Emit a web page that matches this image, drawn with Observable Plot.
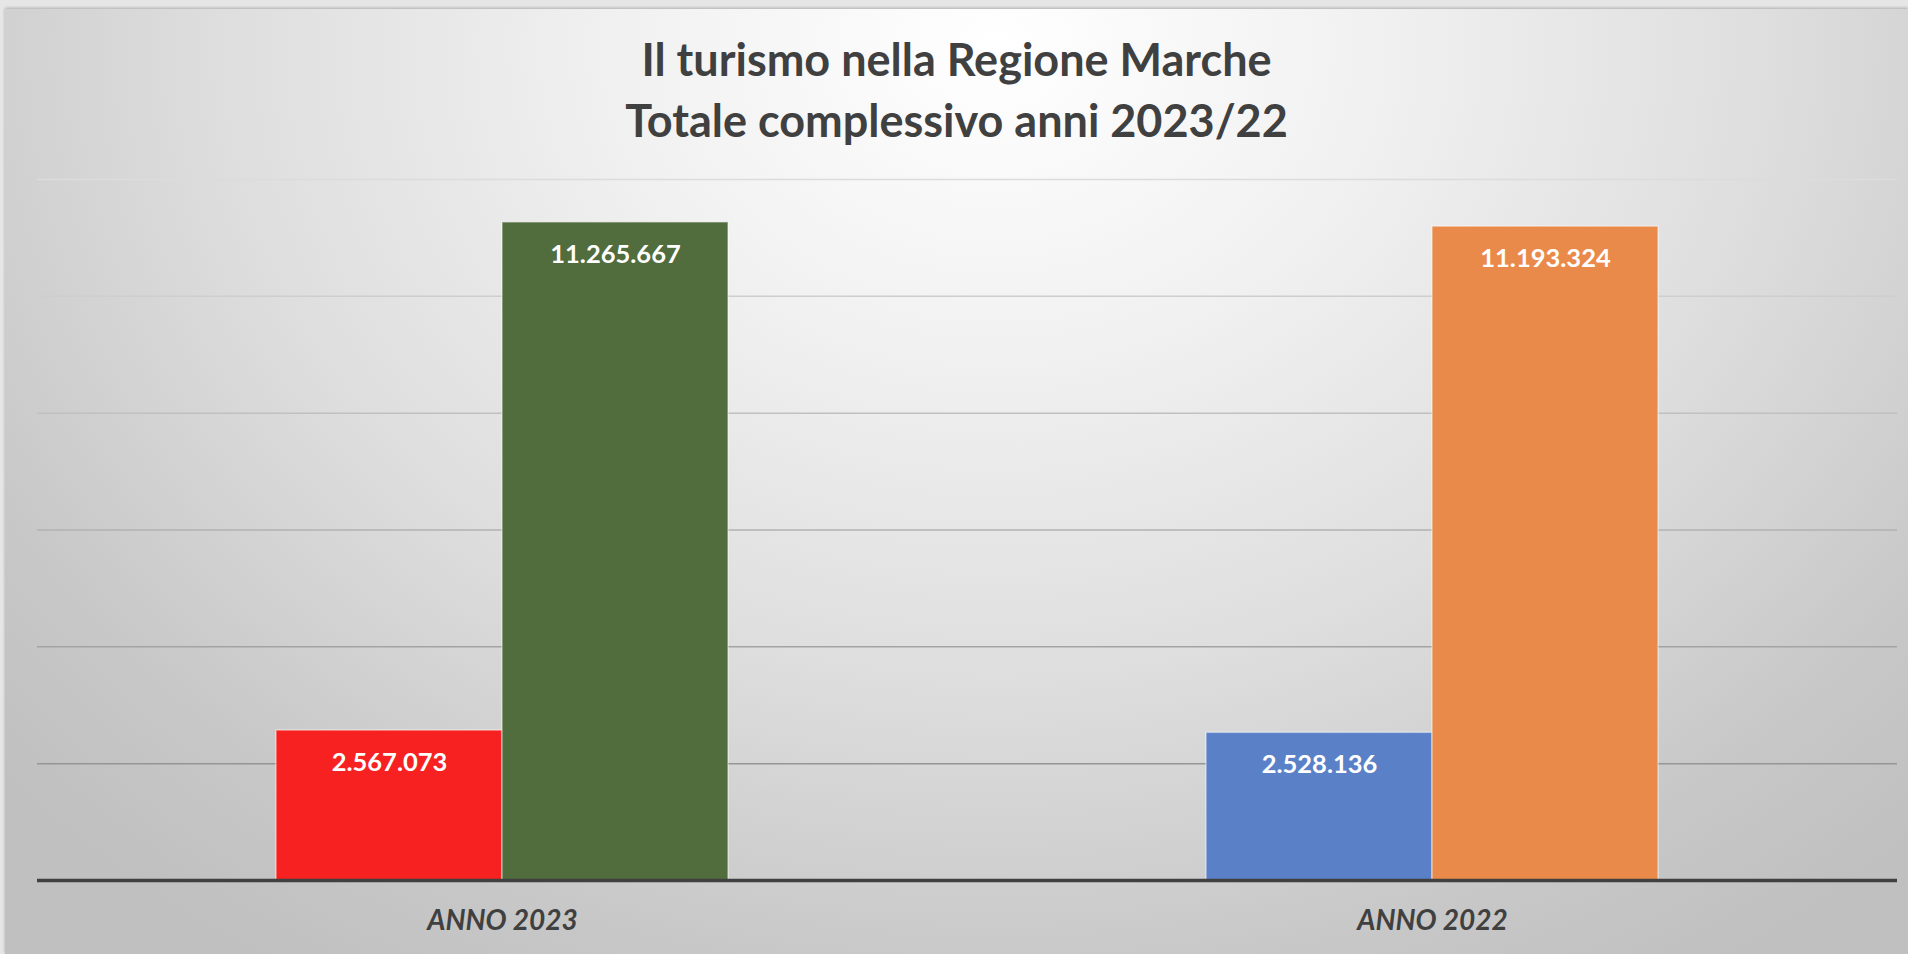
<!DOCTYPE html>
<html>
<head>
<meta charset="utf-8">
<script src="https://cdn.jsdelivr.net/npm/d3@7"></script>
<script src="https://cdn.jsdelivr.net/npm/@observablehq/plot@0.6"></script>
<style>
  html, body { margin: 0; padding: 0; }
  body { width: 1908px; height: 954px; background: #e6e6e6; position: relative; overflow: hidden; font-family: "Lato", "Open Sans", sans-serif; }
  #card { position: absolute; left: 5px; top: 9px; width: 1903px; height: 945px;
    background: radial-gradient(ellipse 70% 115% at 52% 4%, #ffffff 0%, #f1f1f1 28%, #dedede 58%, #c8c8c8 85%, #c0c0c0 100%);
    box-shadow: 0 -1px 3px rgba(0,0,0,0.25); }
  #title { position: absolute; left: 5px; width: 1903px; top: 29px; text-align: center; color: #404040;
    font: bold 45px/61px "Lato", sans-serif; }
  #chart { position: absolute; left: 0; top: 150px; }
</style>
</head>
<body>
<div id="card"></div>
<div id="title">Il turismo nella Regione Marche<br>Totale complessivo anni 2023/22</div>
<div id="chart"></div>
<script>
const categories = ["ANNO 2023", "ANNO 2022"];
const series = ["Arrivi", "Presenze"];
const values2023 = [2567073, 11265667];
const values2022 = [2528136, 11193324];
const gridTicks = [2000000, 4000000, 6000000, 8000000, 10000000, 12000000];

const valuesByYear = [values2023, values2022];
const data = categories.flatMap((c, i) => series.map((s, j) => ({
  year: c, series: s, value: valuesByYear[i][j], key: c + "|" + s
})));

const it = d3.formatLocale({decimal: ",", thousands: ".", grouping: [3], currency: ["", "€"]});
const fmt = it.format(",");
const gridColor = d3.interpolateRgb("#878787", "#dcdcdc");

const chart = Plot.plot({
  width: 1908,
  height: 804,
  marginLeft: 36,
  marginRight: 11,
  marginTop: 29,
  marginBottom: 74,
  style: {background: "transparent", fontFamily: "Lato, sans-serif", overflow: "visible"},
  fx: {domain: categories, padding: 0, label: null},
  x: {domain: series, axis: null, paddingInner: 0, paddingOuter: 1.05},
  y: {domain: [0, 12000000], axis: null},
  color: {domain: data.map(d => d.key), range: ["#f72121", "#516c3d", "#5a81c8", "#ea8a4a"]},
  marks: [
    Plot.ruleY(gridTicks, {stroke: d => gridColor(d / 12000000), strokeWidth: 1.5}),
    Plot.barY(data, {fx: "year", x: "series", y: "value", fill: "key",
      stroke: "#ffffff", strokeOpacity: 0.45, strokeWidth: 1.5}),
    Plot.text(data, {fx: "year", x: "series", y: "value", text: d => fmt(d.value), dy: 32,
      fill: "white", fontSize: 25.5, fontWeight: "bold", fontFamily: "Lato, sans-serif"}),
    Plot.ruleY([0], {stroke: "#404040", strokeWidth: 3.5}),
    Plot.axisFx({anchor: "bottom", tickSize: 0, tickPadding: 30, label: null,
      fontSize: 28, fontWeight: "bold", fontStyle: "italic", fill: "#404040", fontFamily: "Lato, sans-serif"})
  ]
});
document.getElementById("chart").appendChild(chart);
</script>
</body>
</html>
